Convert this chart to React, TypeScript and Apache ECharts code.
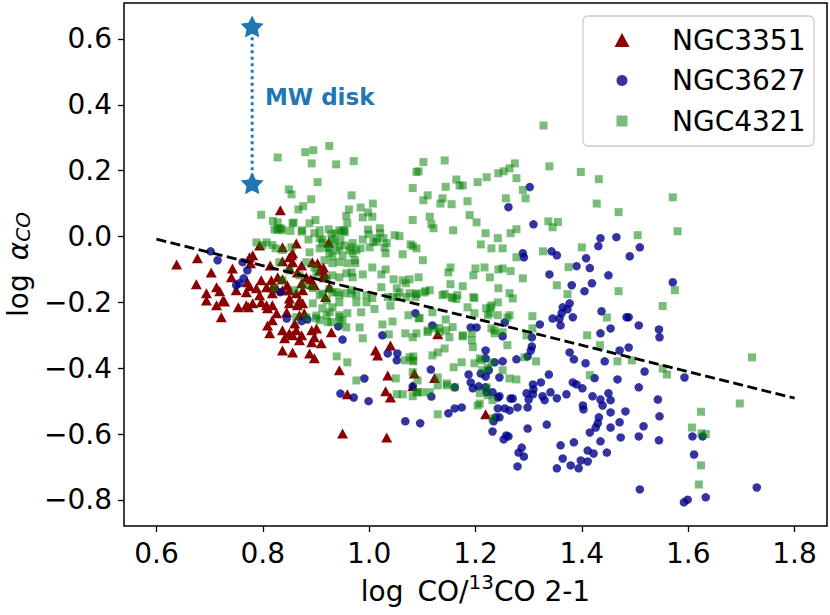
import React, { useEffect, useRef } from "react";
import * as echarts from "echarts";

const FONT = "DejaVu Sans";

const xTicks = [0.6, 0.8, 1.0, 1.2, 1.4, 1.6, 1.8];
const yTicks = [-0.8, -0.6, -0.4, -0.2, 0.0, 0.2, 0.4, 0.6];
const seriesNames = ["NGC3351", "NGC3627", "NGC4321"];

const ngc3351: [number, number][] = [
  [0.833, 0.08], [0.638, -0.085], [0.677, -0.066], [0.703, -0.109], [0.675, -0.145], [0.694, -0.172],
  [0.713, -0.154], [0.719, -0.166], [0.725, -0.194], [0.694, -0.194], [0.713, -0.209], [0.728, -0.197],
  [0.722, -0.245], [0.743, -0.097], [0.781, -0.057], [0.775, -0.063], [0.777, -0.081], [0.794, -0.027],
  [0.837, -0.033], [0.863, -0.021], [0.924, -0.018], [0.854, -0.057], [0.85, -0.063], [0.856, -0.051],
  [0.837, -0.075], [0.856, -0.078], [0.814, -0.088], [0.873, -0.088], [0.893, -0.078], [0.903, -0.081],
  [0.914, -0.094], [0.907, -0.103], [0.916, -0.112], [0.741, -0.124], [0.75, -0.163], [0.769, -0.169],
  [0.775, -0.151], [0.771, -0.139], [0.816, -0.133], [0.828, -0.124], [0.818, -0.154], [0.788, -0.157],
  [0.794, -0.178], [0.797, -0.133], [0.807, -0.154], [0.826, -0.157], [0.818, -0.172], [0.85, -0.096],
  [0.865, -0.109], [0.882, -0.124], [0.873, -0.142], [0.893, -0.145], [0.89, -0.13], [0.897, -0.148],
  [0.916, -0.124], [0.925, -0.154], [0.837, -0.13], [0.846, -0.148], [0.837, -0.163], [0.85, -0.163],
  [0.863, -0.172], [0.875, -0.163], [0.85, -0.188], [0.869, -0.194], [0.769, -0.209], [0.781, -0.203],
  [0.797, -0.2], [0.807, -0.209], [0.754, -0.215], [0.773, -0.215], [0.809, -0.218], [0.818, -0.209],
  [0.826, -0.233], [0.818, -0.254], [0.809, -0.27], [0.813, -0.294], [0.845, -0.23], [0.85, -0.203],
  [0.865, -0.209], [0.875, -0.203], [0.837, -0.285], [0.85, -0.294], [0.863, -0.285], [0.873, -0.3],
  [0.869, -0.315], [0.856, -0.3], [0.841, -0.309], [0.837, -0.346], [0.856, -0.352], [0.892, -0.285],
  [0.901, -0.279], [0.897, -0.306], [0.892, -0.321], [0.91, -0.324], [0.888, -0.355], [0.897, -0.37],
  [0.929, -0.291], [0.918, -0.184], [0.86, -0.264], [0.869, -0.239], [0.878, -0.233], [0.944, -0.406],
  [0.959, -0.479], [0.95, -0.598], [1.033, -0.61], [1.012, -0.346], [1.016, -0.361], [1.04, -0.331],
  [1.035, -0.422], [1.031, -0.47], [1.04, -0.489], [1.085, -0.416], [1.082, -0.455], [1.123, -0.43],
  [1.129, -0.297], [1.219, -0.54],
];

const ngc3627: [number, number][] = [
  [0.702, -0.045], [0.715, -0.072], [0.762, -0.078], [0.771, -0.103], [0.764, -0.127], [0.756, -0.142],
  [0.75, -0.148], [0.833, -0.169], [0.845, -0.249], [0.873, -0.257], [0.884, -0.252], [0.942, -0.273],
  [0.95, -0.313], [1.025, -0.3], [1.035, -0.355], [1.053, -0.355], [1.052, -0.376], [0.991, -0.431],
  [0.946, -0.477], [0.971, -0.489], [0.999, -0.5], [1.068, -0.561], [1.096, -0.567], [1.087, -0.233],
  [1.082, -0.455], [1.119, -0.27], [1.116, -0.404], [1.117, -0.486], [1.149, -0.537], [1.161, -0.522],
  [1.174, -0.519], [1.161, -0.458], [1.187, -0.419], [1.191, -0.443], [1.195, -0.461], [1.206, -0.455],
  [1.21, -0.416], [1.219, -0.425], [1.225, -0.406], [1.219, -0.346], [1.219, -0.37], [1.219, -0.458],
  [1.221, -0.473], [1.232, -0.473], [1.242, -0.489], [1.242, -0.522], [1.238, -0.549], [1.234, -0.561],
  [1.232, -0.592], [1.191, -0.276], [1.202, -0.276], [1.245, -0.428], [1.236, -0.382], [1.251, -0.379],
  [1.277, -0.373], [1.405, -0.166], [1.364, -0.215], [1.377, -0.203], [1.373, -0.221], [1.362, -0.233],
  [1.358, -0.249], [1.345, -0.249], [1.36, -0.27], [1.383, -0.245], [1.321, -0.267], [1.255, -0.261],
  [1.251, -0.303], [1.437, -0.227], [1.454, -0.279], [1.435, -0.294], [1.484, -0.245], [1.488, -0.245],
  [1.507, -0.27], [1.545, -0.282], [1.546, -0.306], [1.306, -0.306], [1.306, -0.334], [1.304, -0.346],
  [1.298, -0.364], [1.377, -0.352], [1.385, -0.373], [1.407, -0.385], [1.443, -0.379], [1.471, -0.346],
  [1.488, -0.337], [1.518, -0.41], [1.467, -0.434], [1.507, -0.458], [1.543, -0.495], [1.546, -0.546],
  [1.516, -0.576], [1.507, -0.607], [1.545, -0.619], [1.338, -0.419], [1.323, -0.443], [1.308, -0.449],
  [1.309, -0.464], [1.308, -0.479], [1.296, -0.476], [1.3, -0.495], [1.298, -0.519], [1.326, -0.485],
  [1.33, -0.497], [1.341, -0.473], [1.353, -0.491], [1.371, -0.479], [1.383, -0.443], [1.39, -0.449],
  [1.401, -0.461], [1.42, -0.485], [1.435, -0.495], [1.45, -0.476], [1.454, -0.497], [1.439, -0.513],
  [1.424, -0.43], [1.402, -0.513], [1.403, -0.525], [1.432, -0.549], [1.43, -0.567], [1.426, -0.58],
  [1.454, -0.534], [1.454, -0.58], [1.471, -0.564], [1.482, -0.531], [1.415, -0.595], [1.435, -0.622],
  [1.473, -0.61], [1.447, -0.656], [1.422, -0.659], [1.411, -0.65], [1.398, -0.68], [1.411, -0.683],
  [1.379, -0.695], [1.394, -0.704], [1.364, -0.674], [1.353, -0.704], [1.385, -0.625], [1.36, -0.634],
  [1.298, -0.583], [1.334, -0.571], [1.287, -0.641], [1.281, -0.656], [1.291, -0.668], [1.279, -0.698],
  [1.253, -0.616], [1.258, -0.604], [1.262, -0.607], [1.255, -0.522], [1.264, -0.528], [1.279, -0.519],
  [1.245, -0.549], [1.266, -0.492], [1.27, -0.492], [1.245, -0.485], [1.593, -0.428], [1.608, -0.607],
  [1.627, -0.607], [1.611, -0.662], [1.509, -0.768], [1.592, -0.807], [1.599, -0.799], [1.633, -0.792],
  [1.729, -0.762], [1.571, -0.139], [1.302, 0.15], [1.262, 0.089], [1.309, 0.037], [1.289, -0.051],
  [1.291, -0.063], [1.343, -0.045], [1.353, -0.057], [1.339, -0.115], [1.39, -0.09], [1.415, -0.096],
  [1.408, -0.066], [1.435, -0.005], [1.431, -0.029], [1.465, -0.002], [1.49, -0.06], [1.509, -0.033],
  [1.45, -0.118], [1.419, -0.142], [1.381, -0.148],
];

const ngc4321: [number, number][] = [
  [0.828, 0.24], [0.88, 0.256], [0.895, 0.262], [0.925, 0.275], [0.892, 0.222], [0.938, 0.219],
  [0.971, 0.229], [0.903, 0.165], [0.849, 0.143], [0.854, 0.128], [0.891, 0.113], [0.876, 0.092],
  [0.867, 0.082], [0.797, 0.066], [0.967, 0.125], [1.007, 0.1], [0.984, 0.088], [0.962, 0.082],
  [0.998, 0.073], [0.957, 0.062], [0.988, 0.058], [1.006, 0.06], [0.899, 0.05], [0.819, 0.047],
  [0.828, 0.043], [0.858, 0.042], [0.959, 0.04], [0.953, 0.019], [0.998, 0.021], [1.02, 0.025],
  [0.937, 0.01], [0.907, 0.019], [0.874, 0.019], [0.852, 0.017], [0.822, 0.022], [0.831, 0.025],
  [0.837, 0.019], [0.827, 0.02], [0.835, 0.024], [0.886, -0.009], [0.912, -0.009], [0.931, -0.009],
  [0.946, -0.011], [0.969, -0.02], [0.988, -0.009], [1.014, -0.016], [1.033, -0.02], [1.048, 0.004],
  [1.057, 0.001], [1.082, -0.029], [1.082, 0.05], [1.089, 0.196], [1.082, 0.147], [0.788, -0.018],
  [0.807, -0.018], [0.824, -0.036], [1.102, 0.226], [1.142, 0.231], [1.093, 0.198], [1.243, 0.192],
  [1.164, 0.173], [1.17, 0.155], [1.176, 0.155], [1.204, 0.165], [1.221, 0.18], [1.144, 0.151],
  [1.11, 0.125], [1.102, 0.11], [1.138, 0.116], [1.134, 0.1], [1.155, 0.098], [1.185, 0.107],
  [1.114, 0.06], [1.117, 0.037], [1.121, 0.025], [1.189, 0.065], [1.202, 0.043], [1.158, 0.019],
  [1.219, 0.01], [1.242, -0.005], [1.21, -0.024], [1.23, -0.036], [0.924, 0.022], [0.929, 0.007],
  [0.95, 0.016], [0.999, 0.007], [1.021, 0.01], [1.027, -0.005], [1.014, -0.005], [1.008, -0.017],
  [1.001, -0.033], [0.984, -0.036], [1.029, -0.033], [1.031, -0.051], [1.063, -0.054], [1.078, -0.024],
  [1.089, -0.036], [1.101, -0.072], [0.907, -0.005], [0.912, -0.02], [0.935, -0.017], [0.925, -0.036],
  [0.944, -0.033], [0.954, -0.027], [0.967, -0.033], [0.976, -0.042], [0.931, -0.06], [0.95, -0.057],
  [0.969, -0.051], [0.974, -0.081], [0.967, -0.109], [0.988, -0.115], [1.006, -0.094], [1.023, -0.115],
  [1.031, -0.1], [1.046, -0.13], [1.063, -0.133], [1.069, -0.142], [1.076, -0.13], [1.093, -0.124],
  [1.052, -0.157], [1.053, -0.184], [1.089, -0.175], [1.106, -0.166], [1.114, -0.163], [1.153, -0.094],
  [1.149, -0.109], [1.2, -0.097], [1.217, -0.094], [1.196, -0.118], [1.227, -0.124], [1.153, -0.145],
  [1.176, -0.151], [1.142, -0.175], [1.166, -0.178], [1.196, -0.184], [1.243, -0.1], [1.243, -0.157],
  [1.328, 0.337], [1.253, 0.198], [1.264, 0.207], [1.274, 0.222], [1.277, 0.177], [1.339, 0.213],
  [1.398, 0.196], [1.432, 0.174], [1.257, 0.116], [1.294, 0.116], [1.289, 0.141], [1.428, 0.1],
  [1.469, 0.074], [1.571, 0.119], [1.58, 0.016], [1.505, 0.004], [1.337, 0.046], [1.355, 0.044],
  [1.345, 0.028], [1.277, 0.022], [1.266, 0.01], [1.251, -0.036], [1.327, -0.045], [1.277, -0.063],
  [1.4, -0.033], [1.375, -0.093], [1.251, -0.097], [1.266, -0.105], [1.289, -0.127], [1.264, -0.172],
  [1.27, -0.188], [1.353, -0.148], [1.373, -0.175], [1.469, -0.166], [1.552, -0.211], [1.575, -0.163],
  [1.138, -0.178], [1.155, -0.184], [1.164, -0.19], [1.198, -0.187], [1.185, -0.215], [1.242, -0.2],
  [1.228, -0.215], [1.076, -0.172], [1.087, -0.184], [1.72, -0.367], [1.56, -0.419], [1.697, -0.507],
  [1.624, -0.532], [1.607, -0.58], [1.625, -0.598], [1.633, -0.6], [1.624, -0.695], [1.62, -0.753],
  [1.447, -0.246], [1.307, -0.242], [1.264, -0.239], [1.26, -0.246], [1.242, -0.239], [1.227, -0.233],
  [1.198, -0.233], [1.119, -0.23], [1.095, -0.248], [1.157, -0.275], [1.132, -0.278], [1.145, -0.285],
  [1.151, -0.306], [1.11, -0.29], [1.089, -0.294], [1.082, -0.306], [1.176, -0.3], [1.193, -0.294],
  [1.193, -0.315], [1.195, -0.336], [1.23, -0.279], [1.236, -0.294], [1.251, -0.291], [1.26, -0.33],
  [1.296, -0.3], [1.307, -0.279], [1.41, -0.3], [1.434, -0.33], [1.467, -0.379], [1.494, -0.376],
  [1.314, -0.379], [1.292, -0.367], [1.198, -0.385], [1.212, -0.376], [1.223, -0.4], [1.251, -0.406],
  [1.159, -0.397], [1.174, -0.382], [1.119, -0.361], [1.129, -0.352], [1.142, -0.34], [1.082, -0.376],
  [1.076, -0.367], [1.091, -0.437], [1.091, -0.473], [1.114, -0.473], [1.129, -0.452], [1.146, -0.446],
  [1.129, -0.428], [1.161, -0.458], [1.208, -0.507], [1.221, -0.458], [1.223, -0.482], [1.264, -0.431],
  [1.277, -0.434], [1.232, -0.552], [1.129, -0.54], [1.415, -0.421], [1.552, -0.401], [0.959, -0.233],
  [0.922, -0.26], [0.944, -0.245], [0.944, -0.264], [0.957, -0.276], [0.982, -0.276], [0.988, -0.309],
  [1.025, -0.267], [1.044, -0.258], [1.037, -0.297], [1.068, -0.294], [1.074, -0.239], [1.093, -0.248],
  [1.089, -0.173], [1.104, -0.17], [1.157, -0.187], [1.22, -0.218], [1.23, -0.209], [1.223, -0.239],
  [1.236, -0.285], [1.176, -0.303], [1.208, -0.37], [1.23, -0.382], [1.213, -0.406], [1.11, -0.285],
  [1.123, -0.279], [1.144, -0.252], [1.132, -0.291], [0.939, -0.364], [0.959, -0.382], [0.976, -0.437],
  [1.05, -0.431], [1.067, -0.376], [1.083, -0.364], [1.083, -0.379], [1.063, -0.479], [1.052, -0.479],
  [1.082, -0.485], [1.089, -0.473], [1.1, -0.473], [1.146, -0.452], [1.204, -0.513], [1.208, -0.476],
  [1.232, -0.497], [0.894, -0.203], [0.912, -0.218], [0.926, -0.23], [0.931, -0.215], [0.944, -0.239],
  [0.95, -0.254], [0.863, -0.245], [0.882, -0.245], [0.9, -0.248], [0.907, -0.254], [1.082, -0.412],
  [0.8, -0.026], [0.818, -0.026], [0.837, -0.041], [0.854, -0.033], [0.888, -0.048], [0.907, -0.036],
  [0.922, -0.033], [0.925, -0.051], [0.939, -0.042], [0.963, -0.042], [0.882, -0.078], [0.897, -0.094],
  [0.916, -0.072], [0.931, -0.081], [0.944, -0.078], [0.959, -0.081], [0.973, -0.072], [0.901, -0.112],
  [0.92, -0.127], [0.931, -0.118], [0.944, -0.124], [0.957, -0.112], [0.969, -0.124], [0.894, -0.157],
  [0.907, -0.178], [0.925, -0.16], [0.939, -0.169], [0.954, -0.172], [0.967, -0.163], [0.976, -0.178],
  [0.92, -0.194], [0.944, -0.2], [0.901, -0.24], [0.92, -0.239], [0.929, -0.26], [0.856, 0.04],
  [0.873, 0.015], [0.888, 0.04], [0.897, 0.01], [0.944, 0.019], [0.954, 0.013], [0.831, -0.078],
  [0.85, -0.103], [0.869, -0.118], [0.86, -0.163], [0.837, -0.133], [0.822, -0.157], [0.878, -0.148],
  [1.023, -0.154], [1.035, -0.184], [0.912, -0.173], [0.931, -0.17], [0.944, -0.178], [0.967, -0.173],
  [0.976, -0.2], [0.995, -0.178], [1.006, -0.187], [1.044, -0.184], [1.057, -0.17], [1.07, -0.184],
  [0.995, -0.2], [1.01, -0.22], [0.985, -0.23], [1.04, -0.21],
];

const fitLine: [number, number][] = [[0.6, -0.008], [1.8, -0.491]];
const mwDisk: [number, number][] = [[0.78, 0.162], [0.78, 0.638]];
const mwLabel: [number, number][] = [[0.803, 0.423]];

const STAR =
  "path://M0,-10L2.94,-4.05L9.51,-3.09L4.76,1.55L5.88,8.09L0,5L-5.88,8.09L-4.76,1.55L-9.51,-3.09L-2.94,-4.05Z";

const fmt = (v: number) => (Math.abs(v) < 1e-9 ? "0.0" : v.toFixed(1)).replace("-", "\u2212");

export default function App() {
  const ref = useRef<HTMLDivElement>(null);
  useEffect(() => {
    document.body.style.margin = "0";
    const chart = echarts.init(ref.current as HTMLDivElement, null, { renderer: "svg" });
    const legendBase = {
      orient: "vertical",
      padding: 0,
      selectedMode: false,
      textStyle: { fontFamily: FONT, fontSize: 28, color: "#000", lineHeight: 30 },
    };
    chart.setOption({
      animation: false,
      textStyle: { fontFamily: FONT },
      grid: {
        left: 124,
        right: 3,
        top: 3,
        bottom: 89,
        show: true,
        borderColor: "#000",
        borderWidth: 1.5,
        backgroundColor: "transparent",
        outerBoundsMode: "none",
        containLabel: false,
      },
      xAxis: {
        type: "value",
        min: 0.539,
        max: 1.861,
        axisLine: { show: false, onZero: false },
        splitLine: { show: false },
        axisTick: { show: true, length: 6, lineStyle: { color: "#000", width: 1.3 }, customValues: xTicks },
        axisLabel: { customValues: xTicks, formatter: fmt, color: "#000", fontSize: 28, margin: 13, fontFamily: FONT },
        name: "{a|log\u2002CO/}{sup|13}{a|CO 2-1}",
        nameLocation: "middle",
        nameGap: 46,
        nameTextStyle: {
          rich: {
            a: { fontFamily: FONT, fontSize: 28, color: "#000", lineHeight: 38 },
            sup: { fontFamily: FONT, fontSize: 20, color: "#000", lineHeight: 20, verticalAlign: "top" },
          },
        },
      },
      yAxis: {
        type: "value",
        min: -0.879,
        max: 0.709,
        axisLine: { show: false, onZero: false },
        splitLine: { show: false },
        axisTick: { show: true, length: 6, lineStyle: { color: "#000", width: 1.3 }, customValues: yTicks },
        axisLabel: { customValues: yTicks, formatter: fmt, color: "#000", fontSize: 28, margin: 12, fontFamily: FONT },
        name: "{a|log\u2002}{al|\u03b1}{sub|CO}",
        nameLocation: "middle",
        nameGap: 87,
        nameTextStyle: {
          rich: {
            a: { fontFamily: FONT, fontSize: 28, color: "#000", lineHeight: 30 },
            al: { fontFamily: FONT, fontSize: 28, fontStyle: "italic", color: "#000", lineHeight: 30 },
            sub: { fontFamily: FONT, fontSize: 20, fontStyle: "italic", color: "#000", lineHeight: 22, verticalAlign: "bottom" },
          },
        },
      },
      graphic: [
        {
          type: "rect",
          shape: { x: 583, y: 16, width: 231, height: 130, r: 5 },
          style: { fill: "rgba(255,255,255,0.8)", stroke: "#cccccc", lineWidth: 1.3 },
          z: 3,
          silent: true,
        },
      ],
      legend: [
        {
          ...legendBase,
          data: [{ name: seriesNames[0], icon: "triangle" }],
          left: 614.5,
          top: 25,
          itemWidth: 15,
          itemHeight: 14,
          textStyle: { ...legendBase.textStyle, padding: [0, 0, 0, 37.5] },
        },
        {
          ...legendBase,
          data: [{ name: seriesNames[1], icon: "circle" }],
          left: 616.5,
          top: 65.5,
          itemWidth: 11,
          itemHeight: 11,
          textStyle: { ...legendBase.textStyle, padding: [0, 0, 0, 39.5] },
        },
        {
          ...legendBase,
          data: [{ name: seriesNames[2], icon: "rect" }],
          left: 616.5,
          top: 106,
          itemWidth: 11,
          itemHeight: 11,
          textStyle: { ...legendBase.textStyle, padding: [0, 0, 0, 39.5] },
        },
      ],
      series: [
        {
          name: seriesNames[0],
          type: "scatter",
          data: ngc3351,
          symbol: "triangle",
          symbolSize: [11, 10],
          itemStyle: { color: "#8b0000", opacity: 1 },
          z: 2,
        },
        {
          name: seriesNames[1],
          type: "scatter",
          data: ngc3627,
          symbol: "circle",
          symbolSize: 8.5,
          itemStyle: { color: "rgba(0,0,139,0.8)", opacity: 1 },
          z: 2,
        },
        {
          name: seriesNames[2],
          type: "scatter",
          data: ngc4321,
          symbol: "rect",
          symbolSize: 8,
          itemStyle: { color: "rgba(0,128,0,0.52)", opacity: 1 },
          z: 2,
        },
        {
          name: "fit",
          type: "line",
          data: fitLine,
          symbol: "none",
          lineStyle: { color: "#000", width: 2.8, type: [10, 4.5] },
          z: 4,
          silent: true,
        },
        {
          name: "MW",
          type: "line",
          data: mwDisk,
          symbol: STAR,
          symbolSize: [23, 22],
          showSymbol: true,
          itemStyle: { color: "#1f77b4", opacity: 1 },
          lineStyle: { color: "#1f77b4", width: 3, type: [3, 3.5] },
          z: 5,
          silent: true,
        },
        {
          name: "MWlabel",
          type: "scatter",
          data: mwLabel,
          symbolSize: 1,
          itemStyle: { color: "rgba(0,0,0,0)", opacity: 1 },
          label: {
            show: true,
            position: "right",
            distance: 0,
            formatter: "MW disk",
            fontFamily: FONT,
            fontWeight: "bold",
            fontSize: 23,
            color: "#1f77b4",
            opacity: 1,
            textBorderWidth: 0,
          },
          z: 5,
          silent: true,
        },
      ],
    });
    return () => chart.dispose();
  }, []);
  return <div ref={ref} style={{ width: 830, height: 615 }} />;
}
